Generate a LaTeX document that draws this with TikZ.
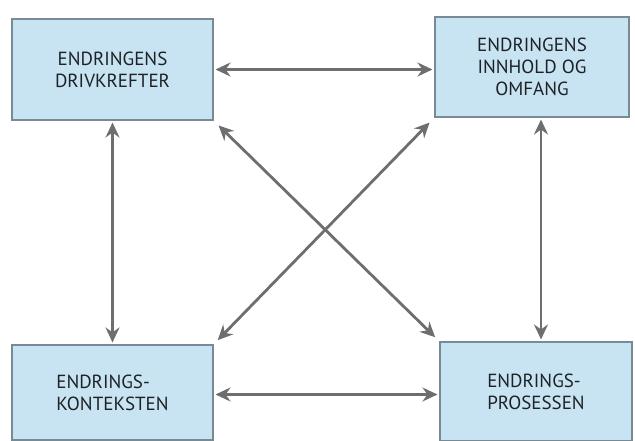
\documentclass[tikz,border=0pt]{standalone}
\usepackage{fontspec}
\setmainfont{PT Sans}
\usetikzlibrary{arrows.meta}
\definecolor{boxfill}{RGB}{200,228,242}
\definecolor{boxline}{RGB}{120,138,148}
\definecolor{linkgray}{RGB}{108,110,112}
\definecolor{txt}{RGB}{30,34,38}
\begin{document}
\begin{tikzpicture}[x=1pt,y=1pt,
  box/.style={draw=boxline,line width=1.1pt,fill=boxfill,text=txt,
    font=\fontsize{19}{22}\selectfont,inner sep=0pt},
  link/.style={draw=linkgray,line width=2.8pt,
    {Stealth[length=15pt,width=14pt,inset=5pt]}-{Stealth[length=15pt,width=14pt,inset=5pt]}}]
  \useasboundingbox (0,0) rectangle (635,441);

  % the four boxes
  \node[box,minimum width=201,minimum height=101,align=center]
    (drv) at (112.5,371.5) {ENDRINGENS\\DRIVKREFTER};
  \node[box,minimum width=194,minimum height=100,align=center]
    (inn) at (532,374) {ENDRINGENS\\INNHOLD OG\\OMFANG};
  \node[box,minimum width=201,minimum height=95,align=left]
    (kon) at (112.5,48.5) {ENDRINGS-\\KONTEKSTEN};
  \node[box,minimum width=192,minimum height=99,align=left]
    (pro) at (536,49.5) {ENDRINGS-\\PROSESSEN};

  % horizontal links
  \draw[link,shorten <=2pt,shorten >=2pt] (drv.east) -- (drv.east -| inn.west);
  \draw[link,shorten <=2pt,shorten >=2pt] ([yshift=-2pt]kon.east) -- ([yshift=-2pt]kon.east -| pro.west);

  % vertical links
  \draw[link,shorten <=2pt,shorten >=2pt] (drv.south) -- (drv.south |- kon.north);
  \draw[link,shorten <=2pt,shorten >=2pt] ([xshift=9pt]inn.south) -- ([xshift=9pt]inn.south |- pro.north);

  % diagonal links
  \draw[link,shorten <=7pt,shorten >=6pt] (drv.south east) -- (pro.north west);
  \draw[link,shorten <=7pt,shorten >=6pt] (inn.south west) -- (kon.north east);
\end{tikzpicture}
\end{document}
